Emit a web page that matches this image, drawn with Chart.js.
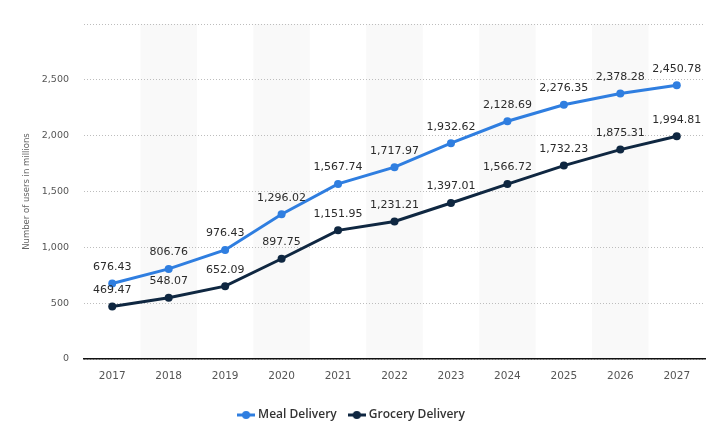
<!DOCTYPE html>
<html>
<head>
<meta charset="utf-8">
<script src="https://cdn.jsdelivr.net/npm/chart.js@4.4.1/dist/chart.umd.min.js"></script>
<style>
  html, body { margin: 0; padding: 0; background: #fff; }
  #wrap { width: 717px; height: 431px; position: relative; }
</style>
</head>
<body>
<div id="wrap"><canvas id="chart"></canvas></div>
<script>
const years = ['2017', '2018', '2019', '2020', '2021', '2022', '2023', '2024', '2025', '2026', '2027'];
const mealDelivery = [676.43, 806.76, 976.43, 1296.02, 1567.74, 1717.97, 1932.62, 2128.69, 2276.35, 2378.28, 2450.78];
const groceryDelivery = [469.47, 548.07, 652.09, 897.75, 1151.95, 1231.21, 1397.01, 1566.72, 1732.23, 1875.31, 1994.81];
const yTicks = [0, 500, 1000, 1500, 2000, 2500, 3000];

const BLUE = '#2f7ee0';
const NAVY = '#0f2741';
const FONT = '"DejaVu Sans", sans-serif';
const LEGEND_FONT = '"Open Sans", sans-serif';

function legendMarker(color) {
  const c = document.createElement('canvas');
  c.width = 18; c.height = 10;
  const g = c.getContext('2d');
  g.strokeStyle = color; g.lineWidth = 3;
  g.beginPath(); g.moveTo(0, 5); g.lineTo(18, 5); g.stroke();
  g.fillStyle = color;
  g.beginPath(); g.arc(9, 5, 4, 0, Math.PI * 2); g.fill();
  return c;
}

// shaded bands behind every other year
const bands = {
  id: 'bands',
  beforeDraw(chart) {
    const { ctx, chartArea, scales } = chart;
    const x = scales.x;
    const w = x.getPixelForValue(1) - x.getPixelForValue(0);
    ctx.save();
    ctx.fillStyle = '#f9f9f9';
    years.forEach((y, i) => {
      if (i % 2 === 1) {
        const cx = x.getPixelForValue(i);
        ctx.fillRect(cx - w / 2, chartArea.top, w, chartArea.bottom - chartArea.top);
      }
    });
    ctx.restore();
  }
};

// value labels above points
const valueLabels = {
  id: 'valueLabels',
  afterDatasetsDraw(chart) {
    const { ctx } = chart;
    ctx.save();
    ctx.font = '11px ' + FONT;
    ctx.fillStyle = '#2b2b2b';
    ctx.textAlign = 'center';
    ctx.textBaseline = 'bottom';
    chart.data.datasets.forEach((ds, di) => {
      const meta = chart.getDatasetMeta(di);
      meta.data.forEach((pt, i) => {
        const txt = ds.data[i].toLocaleString('en-US', { minimumFractionDigits: 2, maximumFractionDigits: 2 });
        ctx.fillText(txt, pt.x, pt.y - 11);
      });
    });
    ctx.restore();
  }
};

new Chart(document.getElementById('chart'), {
  type: 'line',
  data: {
    labels: years,
    datasets: [{
      label: 'Meal Delivery',
      data: mealDelivery,
      borderColor: BLUE,
      backgroundColor: BLUE,
      borderWidth: 3,
      pointRadius: 4,
      pointBorderWidth: 0,
      pointHoverRadius: 4,
      tension: 0
    }, {
      label: 'Grocery Delivery',
      data: groceryDelivery,
      borderColor: NAVY,
      backgroundColor: NAVY,
      borderWidth: 3,
      pointRadius: 4,
      pointBorderWidth: 0,
      pointHoverRadius: 4,
      tension: 0
    }]
  },
  options: {
    responsive: true,
    maintainAspectRatio: false,
    animation: false,
    layout: { padding: { top: 24, right: 12, left: 0, bottom: 0 } },
    plugins: {
      tooltip: { enabled: false },
      legend: {
        position: 'bottom',
        labels: {
          usePointStyle: true,
          padding: 14,
          color: '#333',
          font: { family: LEGEND_FONT, size: 12, weight: '600' },
          generateLabels(chart) {
            return chart.data.datasets.map((ds, i) => ({
              text: ds.label,
              pointStyle: legendMarker(ds.borderColor),
              fillStyle: ds.borderColor,
              strokeStyle: ds.borderColor,
              lineWidth: 0,
              datasetIndex: i,
              fontColor: '#333'
            }));
          }
        }
      }
    },
    scales: {
      x: {
        offset: true,
        grid: { display: false, drawTicks: false },
        border: { display: true, color: '#111', width: 1.5 },
        ticks: { color: '#555', font: { family: FONT, size: 10.5 }, padding: 11 },
        afterFit(s) { s.height = 36; }
      },
      y: {
        min: 0,
        max: 3000,
        afterBuildTicks(s) { s.ticks = yTicks.map(v => ({ value: v })); },
        grid: { color: '#bdbdbd', drawTicks: false },
        border: { display: false, dash: [1, 2] },
        ticks: {
          color: '#555',
          padding: 15,
          font: { family: FONT, size: 9.5 },
          callback(v) { return v === 3000 ? '' : v.toLocaleString('en-US'); }
        },
        title: {
          display: true,
          text: 'Number of users in millions',
          color: '#666',
          font: { family: FONT, size: 8.5 },
          padding: { top: 22, bottom: 6 }
        },
        afterFit(s) { s.width = 84; }
      }
    }
  },
  plugins: [bands, valueLabels]
});
</script>
</body>
</html>
